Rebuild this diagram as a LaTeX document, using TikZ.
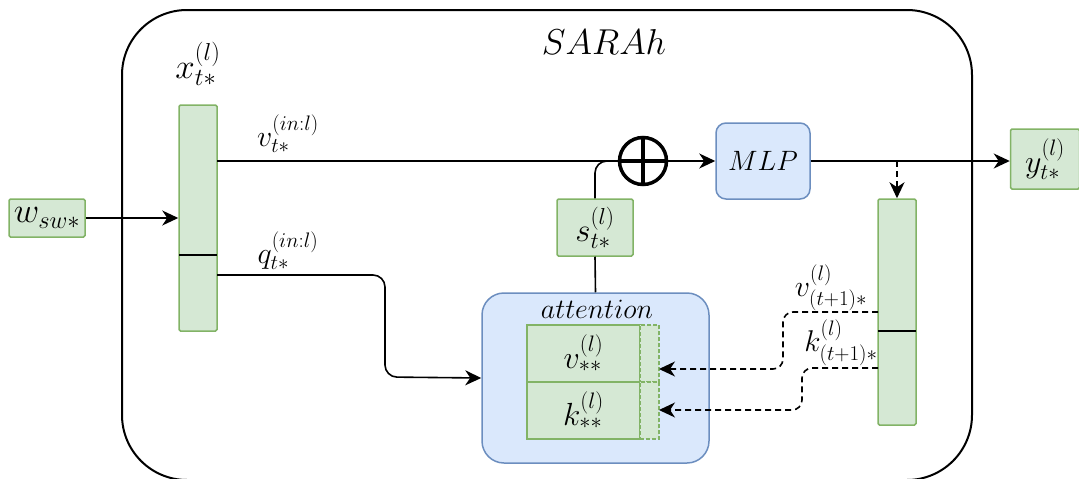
\RequirePackage{fix-cm}
\documentclass[tikz,border=0pt]{standalone}
\usepackage{amsmath}
\usetikzlibrary{arrows.meta}
\definecolor{gfill}{HTML}{D5E8D4}
\definecolor{gline}{HTML}{82B366}
\definecolor{bfill}{HTML}{DAE8FC}
\definecolor{bline}{HTML}{6C8EBF}
\tikzset{
  gbox/.style={draw=gline, fill=gfill, line width=1.5pt, rounded corners=1.5pt, inner sep=0pt},
  bbox/.style={draw=bline, fill=bfill, line width=1.5pt, inner sep=0pt},
  wire/.style={line width=1.6pt},
  conn/.style={wire, -{Stealth[length=16pt,width=15pt,inset=5pt]}},
  dconn/.style={conn, dash pattern=on 6pt off 4pt},
  lab/.style={inner sep=0pt},
  msize/.style={font=\fontsize{#1}{#1}\selectfont},
}
\begin{document}
\begin{tikzpicture}[x=1pt, y=-1pt, font=\fontsize{30}{36}\selectfont]
\useasboundingbox (0,0) rectangle (1079,479);
\clip (0,0) rectangle (1079,479);

% outer block
\node[draw, line width=2pt, rounded corners=65pt, minimum width=850pt, minimum height=470pt, inner sep=0pt] (sarah) at (547,245) {};
\node[lab, msize=36] (title) at (604,42) {$SARAh$};

% input and output tokens
\node[gbox, minimum width=76pt, minimum height=38pt, msize=35] (w) at (47,218) {$w_{sw*}$};
\node[gbox, minimum width=69pt, minimum height=60pt, msize=32] (y) at (1045,159) {$y_{t*}^{(l)}$};

% hidden state column on the left
\node[gbox, minimum width=38pt, minimum height=226pt] (xb) at (198,218) {};
\draw[wire] (179,255) -- (217,255);
\node[lab, msize=35] (xl) at (198,64) {$x_{t*}^{(l)}$};
\node[lab, msize=30] (vl) at (288,134) {$v_{t*}^{(in{:}l)}$};
\node[lab, msize=30] (ql) at (288,251) {$q_{t*}^{(in{:}l)}$};

% column on the right
\node[gbox, minimum width=38pt, minimum height=226pt] (rb) at (897,312) {};
\draw[wire] (878,331) -- (916,331);
\node[lab, msize=30] (vnl) at (831,288) {$v_{(t+1)*}^{(l)}$};
\node[lab, msize=30] (knl) at (841,343) {$k_{(t+1)*}^{(l)}$};

% MLP, sum and attention
\node[bbox, rounded corners=10pt, minimum width=94pt, minimum height=76pt, msize=28] (mlp) at (763,161) {$MLP$};
\node[gbox, minimum width=76pt, minimum height=57pt, msize=33] (s) at (595,227.5) {$s_{t*}^{(l)}$};
\node[bbox, rounded corners=22pt, minimum width=227pt, minimum height=170pt] (att) at (595.5,378) {};
\node[lab, msize=28] (attl) at (597,309) {$attention$};
\node[gbox, rounded corners=0pt, minimum width=113pt, minimum height=57pt, msize=32] (vs) at (583.5,353.5) {$v_{**}^{(l)}$};
\node[gbox, rounded corners=0pt, minimum width=113pt, minimum height=57pt, msize=32] (ks) at (583.5,410.5) {$k_{**}^{(l)}$};
\node[gbox, rounded corners=0pt, dash pattern=on 4pt off 2pt, minimum width=19pt, minimum height=57pt] (vx) at (649.5,353.5) {};
\node[gbox, rounded corners=0pt, dash pattern=on 4pt off 2pt, minimum width=19pt, minimum height=57pt] (kx) at (649.5,410.5) {};

% wiring
\coordinate (vsrc) at (217,161);
\coordinate (qsrc) at (217,275);
\coordinate (qbend) at (385,275);
\coordinate (qdown) at (385,377);
\coordinate (tap) at (897,161);
\coordinate (rv) at (878,312);
\coordinate (rk) at (878,368);
\coordinate (va) at (659,369);
\coordinate (ka) at (659,410);

\draw[conn] (w.east) -- (w.east -| xb.west);
\draw[conn] (vsrc) -- (mlp.west);
\draw[wire, rounded corners=12pt] (s.north) |- (619,161);
\draw[wire] (s.south) -- (att.north);
\draw[conn, rounded corners=12pt] (qsrc) -- (qbend) -- (qdown) -- (att.west);
\draw[conn] (mlp.east) -- (mlp.east -| y.west);
\draw[dconn] (tap) -- (rb.north);
\draw[dconn, rounded corners=10pt] (rv) -- (783,312) -- (783,369) -- (va);
\draw[dconn, rounded corners=10pt] (rk) -- (802,368) -- (802,410) -- (ka);

% summation
\node[circle, draw, line width=3.5pt, minimum size=47pt, inner sep=0pt] (op) at (643,161) {};
\draw[line width=3.5pt] (op.north) -- (op.south) (op.west) -- (op.east);
\end{tikzpicture}
\end{document}
